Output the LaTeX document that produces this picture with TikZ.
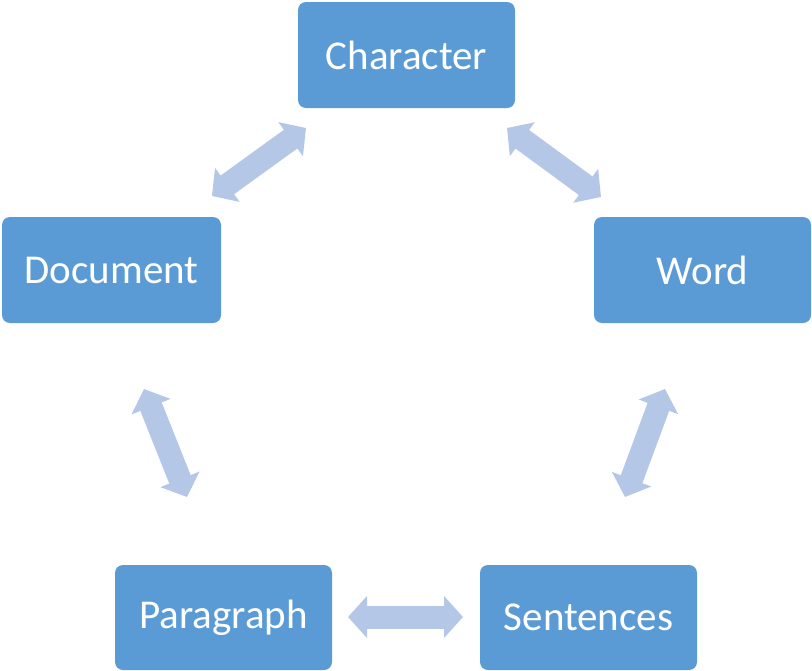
\documentclass[tikz,border=0pt]{standalone}
\usepackage{fontspec}
\setmainfont{Carlito}
\usetikzlibrary{arrows.meta}
\definecolor{boxblue}{HTML}{5B9BD5}
\definecolor{arrowblue}{HTML}{B4C7E7}
\tikzset{
  box/.style={fill=boxblue, rounded corners=8pt, text=white, inner sep=0pt,
    minimum width=217pt, minimum height=106pt, font=\fontsize{41}{49}\selectfont},
  bigarrow/.style={draw=arrowblue, line width=23pt,
    {Triangle[width=41pt,length=19pt]}-{Triangle[width=41pt,length=19pt]}}
}
\begin{document}
\begin{tikzpicture}[x=1pt,y=-1pt]
\useasboundingbox (0,0) rectangle (812,670);
% boxes
\node[box] (character) at (406.5,55) {Character};
\node[box] (word) at (702.5,270) {Word};
\node[box, minimum width=219pt] (document) at (111.5,270) {Document};
\node[box, minimum height=105pt] (paragraph) at (223.5,617.5) {Paragraph};
\node[box, minimum height=105pt] (sentences) at (588.5,617.5) {Sentences};
% arrow end points
\coordinate (a1) at (212,196);
\coordinate (a2) at (306,128);
\coordinate (b1) at (507,128);
\coordinate (b2) at (601,197);
\coordinate (c1) at (665,389);
\coordinate (c2) at (625,497);
\coordinate (d1) at (144,389);
\coordinate (d2) at (187,497);
\coordinate (e1) at (348,617);
\coordinate (e2) at (463,617);
\draw[bigarrow] (a1) -- (a2);
\draw[bigarrow] (b1) -- (b2);
\draw[bigarrow] (c1) -- (c2);
\draw[bigarrow] (d1) -- (d2);
\draw[bigarrow] (e1) -- (e2);
\end{tikzpicture}
\end{document}
